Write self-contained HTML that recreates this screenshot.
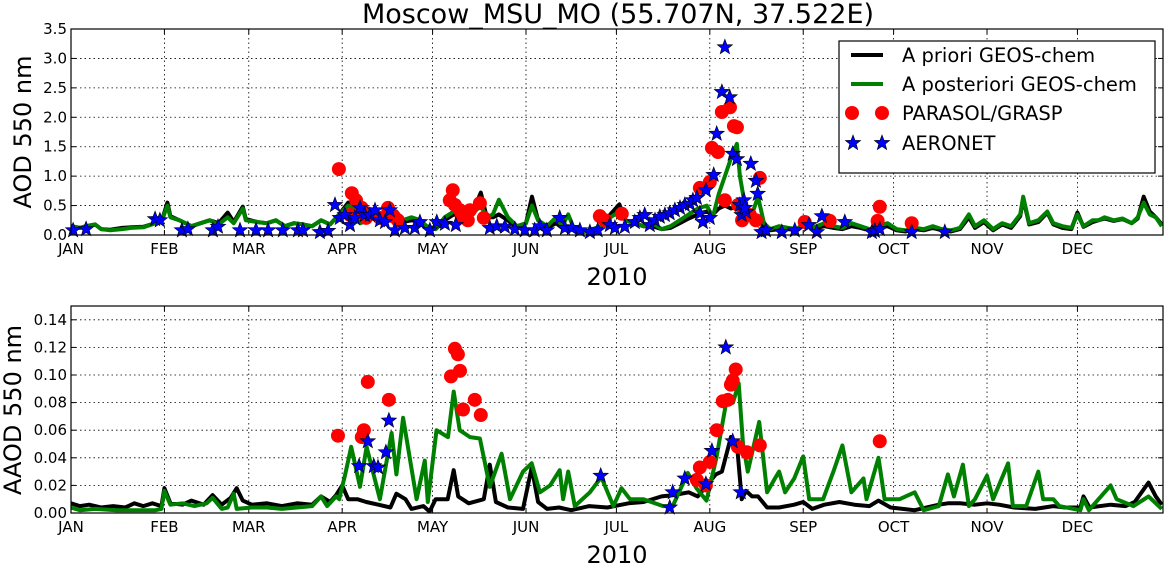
<!DOCTYPE html>
<html><head><meta charset="utf-8">
<style>
html,body{margin:0;padding:0;background:#fff;}
svg{display:block;font-family:"DejaVu Sans","Liberation Sans",sans-serif;}
</style></head>
<body>
<svg id="chart" width="1166" height="563" viewBox="0 0 1166 563" xmlns="http://www.w3.org/2000/svg">
<text x="618" y="23" font-size="27" text-anchor="middle">Moscow_MSU_MO (55.707N, 37.522E)</text>
<g id="top"></g>
<g id="bot"></g>
</svg>
<script>
const monthLabels = ["JAN","FEB","MAR","APR","MAY","JUN","JUL","AUG","SEP","OCT","NOV","DEC"];
const monthStartDays = [0,31,59,90,120,151,181,212,243,273,304,334];
const topTicks = [0,0.5,1.0,1.5,2.0,2.5,3.0,3.5];
const botTicks = [0,0.02,0.04,0.06,0.08,0.10,0.12,0.14];

const aprioriAOD = [[0,.15],[3,.12],[5,.15],[8,.18],[10,.1],[13,.09],[17,.12],[20,.13],[24,.14],[28,.2],[30,.22],[32,.55],[33,.32],[36,.25],[40,.15],[43,.2],[46,.25],[49,.2],[52,.38],[54,.22],[57,.48],[58,.27],[62,.22],[65,.2],[68,.25],[71,.15],[74,.2],[77,.18],[80,.15],[83,.25],[86,.18],[89,.35],[92,.55],[94,.45],[96,.2],[99,.28],[102,.3],[105,.28],[108,.3],[110,.22],[113,.25],[116,.22],[118,.15],[121,.1],[124,.25],[127,.35],[130,.3],[133,.35],[136,.72],[138,.3],[140,.3],[142,.35],[145,.25],[148,.12],[151,.2],[153,.65],[155,.25],[158,.12],[161,.2],[163,.12],[165,.15],[167,.08],[170,.05],[173,.08],[176,.15],[179,.35],[182,.52],[184,.25],[187,.2],[190,.15],[193,.15],[196,.1],[199,.12],[202,.2],[205,.28],[208,.35],[211,.4],[213,.35],[215,.45],[217,.5],[219,.45],[221,.48],[222,.4],[224,.35],[226,.3],[228,.3],[230,.15],[232,.08],[235,.1],[238,.1],[241,.08],[244,.2],[246,.1],[250,.15],[253,.12],[256,.1],[259,.15],[262,.12],[265,.08],[268,.12],[271,.15],[274,.08],[277,.06],[280,.1],[283,.08],[286,.12],[289,.08],[292,.06],[295,.1],[298,.3],[300,.12],[303,.22],[306,.08],[309,.18],[312,.12],[315,.32],[316,.62],[318,.18],[321,.22],[324,.38],[326,.18],[329,.12],[332,.1],[334,.38],[336,.14],[339,.22],[341,.25],[343,.28],[346,.24],[349,.27],[352,.2],[354,.28],[356,.65],[358,.4],[360,.3],[362,.18]];
const aposterioriAOD = [[0,.15],[3,.12],[5,.15],[8,.18],[10,.1],[13,.08],[17,.1],[20,.12],[24,.13],[28,.2],[30,.22],[32,.5],[33,.3],[36,.25],[40,.15],[43,.2],[46,.25],[49,.18],[52,.3],[54,.2],[57,.45],[58,.25],[62,.22],[65,.2],[68,.25],[71,.15],[74,.2],[77,.18],[80,.15],[83,.25],[86,.18],[89,.35],[92,.5],[94,.45],[96,.2],[99,.3],[102,.35],[105,.3],[108,.4],[110,.25],[113,.3],[116,.25],[118,.15],[121,.1],[124,.3],[127,.4],[130,.45],[133,.35],[136,.5],[138,.3],[140,.35],[142,.6],[145,.3],[148,.15],[151,.2],[153,.5],[155,.25],[158,.15],[161,.3],[163,.15],[165,.35],[167,.1],[170,.05],[173,.1],[176,.15],[179,.3],[182,.4],[184,.25],[187,.2],[190,.15],[193,.2],[196,.1],[199,.15],[202,.25],[205,.35],[208,.45],[211,.5],[213,.3],[215,.7],[217,1.0],[219,1.3],[221,1.55],[222,1.0],[224,.4],[226,.35],[228,.65],[230,.2],[232,.1],[235,.15],[238,.12],[241,.1],[244,.25],[246,.12],[250,.2],[253,.15],[256,.12],[259,.2],[262,.15],[265,.1],[268,.15],[271,.2],[274,.1],[277,.08],[280,.12],[283,.1],[286,.15],[289,.1],[292,.08],[295,.12],[298,.35],[300,.15],[303,.25],[306,.1],[309,.2],[312,.15],[315,.35],[316,.65],[318,.2],[321,.25],[324,.4],[326,.2],[329,.15],[332,.12],[334,.35],[336,.15],[339,.25],[341,.25],[343,.3],[346,.25],[349,.28],[352,.2],[354,.3],[356,.55],[358,.35],[360,.3],[362,.15]];
const parasolAOD = [[88.9,1.12],[93.2,.71],[94.6,.59],[96.5,.46],[95.9,.37],[92.6,.34],[97.9,.29],[102.5,.29],[105.2,.46],[107.2,.31],[108.5,.25],[126.7,.76],[125.7,.59],[127.4,.51],[129.1,.42],[129.7,.31],[132.4,.42],[131.7,.25],[135.7,.54],[137,.29],[175.5,.32],[177.2,.25],[182.8,.36],[208.7,.8],[212,.9],[212.7,1.48],[214.7,1.41],[216,2.09],[218.7,2.17],[220,1.85],[221,1.83],[217,.59],[221.4,.51],[222.7,.25],[225.3,.34],[227.3,.25],[228.6,.97],[243.5,.22],[251.8,.24],[268.4,.48],[267.7,.24],[279,.2]];
const aeronetAOD = [[0.7,.08],[5,.1],[27.9,.27],[29.5,.25],[36.8,.08],[38.8,.1],[47.1,.08],[48.8,.14],[56.1,.08],[61.4,.08],[65.4,.08],[70.3,.08],[75.3,.08],[77,.08],[82.6,.05],[85.3,.07],[87.6,.51],[89.2,.29],[90.9,.34],[92.6,.17],[94.2,.29],[95.9,.46],[97.5,.34],[99.2,.34],[100.9,.42],[102.5,.25],[104.2,.22],[105.8,.42],[107.5,.08],[110.8,.12],[114.1,.12],[115.8,.22],[119.1,.08],[121.4,.22],[124.1,.19],[127.7,.17],[139,.12],[141.3,.15],[144,.14],[147.3,.1],[150.6,.08],[153.9,.08],[155.6,.15],[157.9,.08],[162.2,.29],[163.9,.12],[166.2,.12],[168.9,.08],[172.2,.05],[174.8,.08],[178.8,.17],[180.5,.12],[183.8,.14],[187.1,.22],[188.8,.29],[190.4,.34],[192.1,.17],[193.8,.25],[195.4,.31],[197.1,.34],[198.7,.37],[200.4,.42],[202.1,.46],[203.7,.51],[205.4,.53],[206.4,.59],[207.7,.63],[208.7,.37],[209.7,.22],[210.7,.76],[212,.29],[213.3,1.02],[214.3,1.72],[216,2.43],[217,3.19],[218.6,2.34],[219.6,1.38],[221,1.29],[222,.51],[222.6,.34],[223.3,.59],[224,.39],[225.6,1.21],[223.6,.46],[227.3,.92],[227.9,.7],[229.2,.05],[230.6,.08],[235.9,.05],[240.2,.08],[244.9,.17],[247.5,.05],[249.2,.32],[256.8,.22],[265.8,.05],[266.8,.07],[268.4,.1],[279,.05],[290,.05]];

const aprioriAAOD = [[0,.007],[3,.005],[6,.006],[10,.004],[14,.005],[18,.004],[21,.007],[24,.005],[27,.007],[30,.005],[31,.018],[33,.007],[37,.006],[40,.009],[44,.006],[47,.013],[50,.006],[53,.011],[55,.018],[57,.009],[60,.006],[65,.007],[70,.005],[75,.007],[80,.006],[83,.012],[86,.008],[88,.013],[90,.02],[92,.01],[95,.01],[98,.008],[102,.006],[106,.004],[108,.014],[111,.01],[113,.003],[117,.005],[119,.001],[121,.01],[125,.01],[127,.031],[128.5,.012],[132,.007],[137,.01],[139,.035],[141,.008],[145,.004],[150,.003],[152.9,.033],[155,.008],[158,.003],[162,.004],[166,.002],[172,.005],[178,.004],[185,.007],[190,.008],[196,.012],[200,.013],[205,.015],[208,.012],[211,.02],[214,.028],[216,.03],[219,.055],[221,.05],[222.6,.01],[224,.016],[226,.012],[228,.012],[231,.004],[235,.004],[240,.006],[243,.008],[246,.003],[250,.006],[255,.008],[260,.006],[265,.005],[268,.009],[272,.004],[280,.002],[288,.006],[291,.007],[295,.007],[300,.006],[304,.007],[308,.006],[313,.004],[320,.003],[326,.005],[330,.004],[335,.004],[336,.012],[338,.004],[345,.006],[350,.005],[353,.008],[357.6,.022],[360,.012],[362,.006]];
const aposterioriAAOD = [[0,.004],[3,.002],[8,.003],[15,.002],[22,.002],[28,.002],[30,.003],[31,.016],[33,.006],[37,.007],[41,.005],[45,.007],[47,.011],[50,.003],[52,.004],[54,.014],[55,.003],[60,.004],[65,.004],[70,.003],[75,.004],[80,.005],[83,.012],[85,.005],[88,.012],[89,.01],[91,.028],[93,.048],[95.9,.019],[98.1,.048],[102.5,.01],[106.4,.058],[108,.028],[110.2,.069],[114.7,.01],[117.4,.038],[118.4,.008],[121.3,.06],[125.1,.055],[127,.088],[129,.06],[132.4,.055],[135.7,.054],[139,.019],[142.9,.043],[145.7,.01],[150,.03],[152.9,.036],[155.6,.015],[159,.02],[162.2,.031],[163.3,.01],[165,.03],[167.2,.005],[172.2,.015],[176,.026],[180,.005],[182.7,.018],[185.5,.01],[190,.01],[196.5,.005],[199.7,.005],[204.7,.029],[207.6,.018],[210.9,.009],[214.2,.04],[217.5,.081],[219.7,.08],[221.6,.094],[223,.05],[224.6,.03],[228.4,.066],[231,.015],[233.6,.025],[235,.03],[237,.015],[240,.025],[243,.041],[245,.01],[249.6,.01],[253,.03],[256,.049],[259,.015],[263,.025],[264,.01],[268,.04],[270,.01],[275,.01],[280,.015],[283,.002],[288,.005],[291,.028],[293,.012],[296,.035],[298,.005],[300,.01],[304,.027],[306,.01],[311,.036],[312.6,.005],[317,.005],[321,.03],[322.6,.01],[326,.01],[328,.005],[335,.002],[336,.01],[337.8,.002],[345,.02],[347,.01],[352.6,.005],[357.6,.012],[362,.003]];
const parasolAAOD = [[88.6,.056],[96.5,.055],[97.2,.060],[98.5,.095],[105.5,.082],[126.1,.099],[127.4,.119],[128.4,.115],[129.1,.103],[130.1,.075],[134,.082],[136,.071],[207.7,.024],[208.7,.033],[210.7,.02],[212,.037],[214.3,.06],[216.3,.081],[218,.082],[219,.093],[219.6,.096],[220.6,.104],[221.3,.048],[224.3,.044],[228.6,.049],[268.4,.052]];
const aeronetAAOD = [[95.6,.034],[98.5,.052],[100.5,.034],[101.9,.033],[104.5,.044],[105.5,.067],[175.8,.027],[198.7,.004],[199.7,.015],[203.7,.025],[210.7,.021],[212.7,.045],[217.3,.120],[219.6,.052],[222.3,.015]];

const NS='http://www.w3.org/2000/svg';
const X0=71, X1=1163, DMAX=362.4;
function xs(d){return X0+d*(X1-X0)/DMAX;}
function mk(tag,attrs,parent){const e=document.createElementNS(NS,tag);for(const k in attrs)e.setAttribute(k,attrs[k]);parent.appendChild(e);return e;}
function star(cx,cy,r){let p=[];for(let i=0;i<10;i++){const a=-Math.PI/2+i*Math.PI/5;const rr=i%2?r*0.42:r;p.push((cx+rr*Math.cos(a)).toFixed(1)+','+(cy+rr*Math.sin(a)).toFixed(1));}return p.join(' ');}

function panel(g,top,bot,ymax,ticks,dec,lines,reds,blues,ylabel,ylx,yly,xlabY){
  const ys=v=>bot-v*(bot-top)/ymax;
  const clipId='clip'+top;
  const defs=mk('defs',{},g);const cp=mk('clipPath',{id:clipId},defs);mk('rect',{x:X0,y:top,width:X1-X0,height:bot-top},cp);
  monthStartDays.forEach((d,i)=>{
    const x=xs(d);
    if(i>0){const l=mk('line',{x1:x,x2:x,y1:top,y2:bot,stroke:'#000','stroke-width':0.8,'stroke-dasharray':'1.5,3'},g);
    
    }
    const t=mk('text',{x:x,y:bot+19,'font-size':15,'text-anchor':'middle'},g);t.textContent=monthLabels[i];
    
    
    mk('line',{x1:x,x2:x,y1:bot,y2:bot-5,stroke:'#000','stroke-width':1},g);
    mk('line',{x1:x,x2:x,y1:top,y2:top+5,stroke:'#000','stroke-width':1},g);
  });
  ticks.forEach(v=>{
    const y=ys(v);
    if(v>0&&y>top+1){const l=mk('line',{x1:X0,x2:X1,y1:y,y2:y,stroke:'#000','stroke-width':0.8,'stroke-dasharray':'1.5,3'},g);
    
    }
    const t=mk('text',{x:X0-4,y:y+5,'font-size':15,'text-anchor':'end'},g);t.textContent=v.toFixed(dec);
    
    
    mk('line',{x1:X0,x2:X0+5,y1:y,y2:y,stroke:'#000','stroke-width':1},g);
    mk('line',{x1:X1,x2:X1-5,y1:y,y2:y,stroke:'#000','stroke-width':1},g);
  });
  const cg=mk('g',{'clip-path':'url(#'+clipId+')'},g);
  lines.forEach(([arr,col,name])=>{
    const pts=arr.slice().sort((a,b)=>a[0]-b[0]).map(p=>xs(p[0]).toFixed(1)+','+ys(p[1]).toFixed(1)).join(' ');
    const pl=mk('polyline',{points:pts,fill:'none',stroke:col,'stroke-width':4,'stroke-linejoin':'round'},cg);
    
    
  });
  reds.forEach(p=>{const c=mk('circle',{cx:xs(p[0]),cy:ys(p[1]),r:7,fill:'#ff0000'},g);
    
    });
  blues.forEach(p=>{const s=mk('polygon',{points:star(xs(p[0]),ys(p[1]),8),fill:'#0000ff',stroke:'#000','stroke-width':0.6},g);
    
    });
  const fr=mk('rect',{x:X0,y:top,width:X1-X0,height:bot-top,fill:'none',stroke:'#000','stroke-width':1.2},g);
  
  
  const yl=mk('text',{x:ylx,y:yly,'font-size':24,'text-anchor':'middle',transform:'rotate(-90 '+ylx+' '+yly+')'},g);yl.textContent=ylabel;
  
  
  const xl=mk('text',{x:617,y:xlabY,'font-size':24,'text-anchor':'middle'},g);xl.textContent='2010';
  
  
}
const gt=document.getElementById('top'), gb=document.getElementById('bot');
panel(gt,29,235,3.5,topTicks,1,[[aprioriAOD,'#000','apriori-line'],[aposterioriAOD,'#008000','aposteriori-line']],parasolAOD,aeronetAOD,'AOD 550 nm',31,132,285);
panel(gb,306,513,0.15,botTicks,2,[[aprioriAAOD,'#000','apriori-line'],[aposterioriAAOD,'#008000','aposteriori-line']],parasolAAOD,aeronetAAOD,'AAOD 550 nm',21,410,563);

const lg=mk('g',{},gt);


mk('rect',{x:839,y:41,width:316,height:132,fill:'#fff',stroke:'#000','stroke-width':1.2},lg);
const rows=[['A priori GEOS-chem',55],['A posteriori GEOS-chem',84],['PARASOL/GRASP',113],['AERONET',143]];
rows.forEach(([txt,y],i)=>{
  const e=mk('g',{},lg);
  
  
  if(i<2)mk('line',{x1:851,x2:883,y1:y,y2:y,stroke:i?'#008000':'#000','stroke-width':4},e);
  else if(i==2){mk('circle',{cx:852,cy:y,r:7,fill:'#ff0000'},e);mk('circle',{cx:882,cy:y,r:7,fill:'#ff0000'},e);}
  else{mk('polygon',{points:star(853,y,8),fill:'#0000ff',stroke:'#000','stroke-width':0.6},e);mk('polygon',{points:star(882,y,8),fill:'#0000ff',stroke:'#000','stroke-width':0.6},e);}
  const t=mk('text',{x:902,y:y+7,'font-size':19.5},e);t.textContent=txt;
});
</script>
</body></html>
